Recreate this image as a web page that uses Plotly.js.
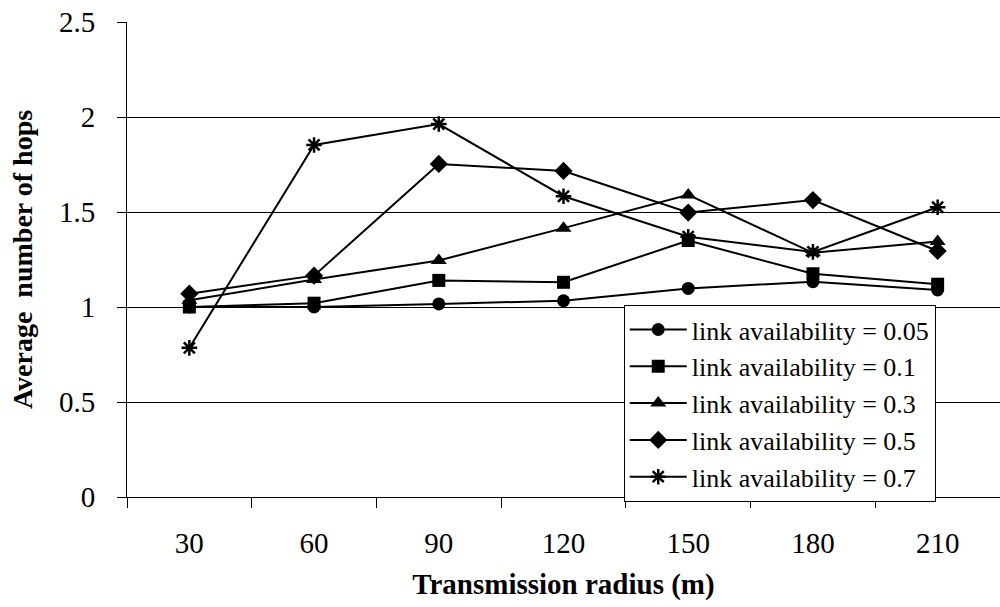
<!DOCTYPE html>
<html><head><meta charset="utf-8">
<script src="https://cdn.plot.ly/plotly-3.0.1.min.js"></script>
<style>html,body{margin:0;padding:0;background:#fff}#chart{width:1000px;height:607px}</style>
</head><body><div id="chart"></div>
<script>
const categories = ['30','60','90','120','150','180','210'];
const seriesNames = ['link availability = 0.05','link availability = 0.1','link availability = 0.3','link availability = 0.5','link availability = 0.7'];
const la005 = [1.00, 1.00, 1.016, 1.033, 1.098, 1.133, 1.09];
const la01  = [1.00, 1.02, 1.14, 1.13, 1.35, 1.175, 1.12];
const la03  = [1.035, 1.145, 1.245, 1.415, 1.59, 1.285, 1.345];
const la05  = [1.07, 1.165, 1.753, 1.716, 1.497, 1.563, 1.295];
const la07  = [0.785, 1.853, 1.963, 1.583, 1.37, 1.29, 1.525];
const yTicks = [0, 0.5, 1, 1.5, 2, 2.5];
const yTickText = ['0','0.5','1','1.5','2','2.5'];

const values = [la005, la01, la03, la05, la07];
const symbols = ['circle','square','triangle-up','diamond','asterisk-open'];
const sizes = [13, 13, 14, 14, 13];
const traces = values.map((v,i)=>({
  x: categories, y: v, name: seriesNames[i], type:'scatter', mode:'lines+markers',
  line:{color:'#000', width:2},
  marker:{symbol:symbols[i], size:sizes[i], color:'#000', line:{color:'#000', width: i===4?2.5:0}}
}));
const fam = 'Liberation Serif, Times New Roman, serif';
const layout = {
  width:1000, height:607,
  margin:{l:127, r:0, t:22, b:110},
  paper_bgcolor:'#fff', plot_bgcolor:'#fff',
  font:{family:fam, size:28, color:'#000'},
  showlegend:true,
  legend:{x:0.569, y:0.404, xanchor:'left', yanchor:'top', bgcolor:'#fff', bordercolor:'#000', borderwidth:1,
    font:{family:fam, size:26, color:'#000'}, tracegroupgap:0, itemwidth:57},
  xaxis:{type:'category', range:[-0.5,6.5], tickson:'boundaries', ticks:'outside', ticklen:10, tickcolor:'#000',
    showline:true, linecolor:'#000', linewidth:1, showgrid:false, zeroline:false, ticklabelstandoff:20,
    tickfont:{family:fam, size:29, color:'#000'},
    title:{text:'<b>Transmission radius (m)</b>', font:{family:fam, size:29, color:'#000'}, standoff:15}},
  yaxis:{range:[0,2.5], tickvals:yTicks, ticktext:yTickText, ticks:'outside', ticklen:9, tickcolor:'#000',
    showline:true, linecolor:'#000', linewidth:1, showgrid:true, gridcolor:'#000', gridwidth:1, zeroline:false, ticklabelstandoff:16,
    tickfont:{family:fam, size:29, color:'#000'},
    title:{text:'<b>Average  number of hops</b>', font:{family:fam, size:28, color:'#000'}, standoff:18}}
};
Plotly.newPlot('chart', traces, layout, {displayModeBar:false, staticPlot:true});
</script></body></html>
